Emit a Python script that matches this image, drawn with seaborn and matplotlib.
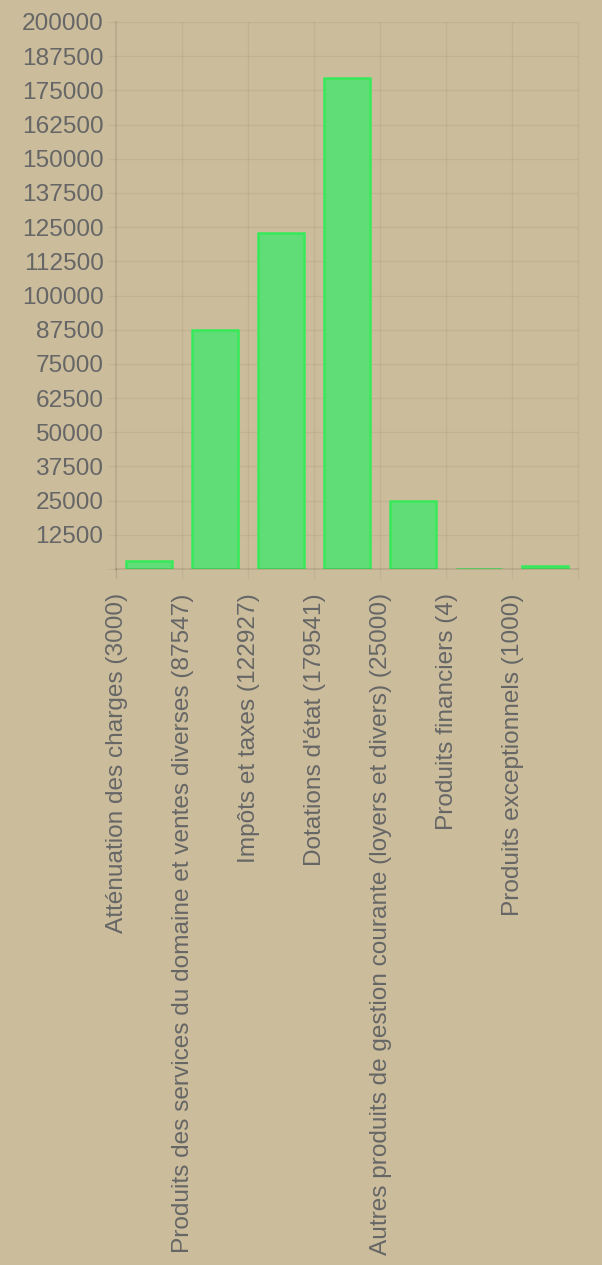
import matplotlib
matplotlib.use("Agg")
import matplotlib.pyplot as plt
import matplotlib.transforms as mtransforms
import seaborn as sns
import numpy as np
import pandas as pd

categories = [
    "Atténuation des charges (3000)",
    "Produits des services du domaine et ventes diverses (87547)",
    "Impôts et taxes (122927)",
    "Dotations d'état (179541)",
    "Autres produits de gestion courante (loyers et divers) (25000)",
    "Produits financiers (4)",
    "Produits exceptionnels (1000)",
]
values = [3000, 87547, 122927, 179541, 25000, 4, 1000]
ytick_values = list(range(12500, 200001, 12500))

sns.set_theme(style="white")
plt.rcParams['font.family'] = ['Liberation Sans', 'DejaVu Sans']

W, H, DPI = 602, 1265, 100
fig = plt.figure(figsize=(W / DPI, H / DPI), dpi=DPI)
bg = "#cbbd9c"
fig.patch.set_facecolor(bg)

left, right = 116 / W, 578 / W
top, bottom = 1 - 22 / H, 1 - 569 / H
ax = fig.add_axes([left, bottom, right - left, top - bottom])
ax.set_facecolor("none")

df = pd.DataFrame({"cat": categories, "val": values})
sns.barplot(data=df, x="cat", y="val", ax=ax, color="#60dd76",
            edgecolor="#38ea5a", linewidth=1.8, width=0.7, saturation=1)

ax.set_ylim(0, 200000)
ax.set_xlim(-0.5, len(categories) - 0.5)
ax.set_xlabel("")
ax.set_ylabel("")

grid_c = (0.3, 0.25, 0.15, 0.08)
axis_c = (0.3, 0.25, 0.15, 0.16)
ax.set_yticks([0] + ytick_values)
ax.set_yticklabels([""] + [str(v) for v in ytick_values])
for v in ytick_values:
    ax.axhline(v, color=grid_c, lw=1, zorder=0)
ext = -9 / 547
for i in range(1, len(categories) + 1):
    ax.axvline(i - 0.5, ymin=ext, ymax=1, color=grid_c, lw=1, zorder=0,
               clip_on=False)
ax.axvline(-0.5, ymin=ext, ymax=0, color=axis_c, lw=1, clip_on=False)

for s in ["top", "right"]:
    ax.spines[s].set_visible(False)
ax.spines["left"].set_color(axis_c)
ax.spines["bottom"].set_color(axis_c)

ax.tick_params(axis="y", length=6, width=1, color=grid_c,
               labelsize=17.6, labelcolor="#666666", pad=3, left=True)
ax.tick_params(axis="x", length=0, width=1,
               labelsize=17.6, labelcolor="#666666", pad=17.5, bottom=False)
ax.set_xticks(range(len(categories)))
ax.set_xticklabels(categories, rotation=90, ha="center", va="top")
offset = mtransforms.ScaledTranslation(-32 / DPI, 0, fig.dpi_scale_trans)
for lbl in ax.get_xticklabels():
    lbl.set_transform(lbl.get_transform() + offset)

fig.savefig("out.png", dpi=DPI, facecolor=bg)
